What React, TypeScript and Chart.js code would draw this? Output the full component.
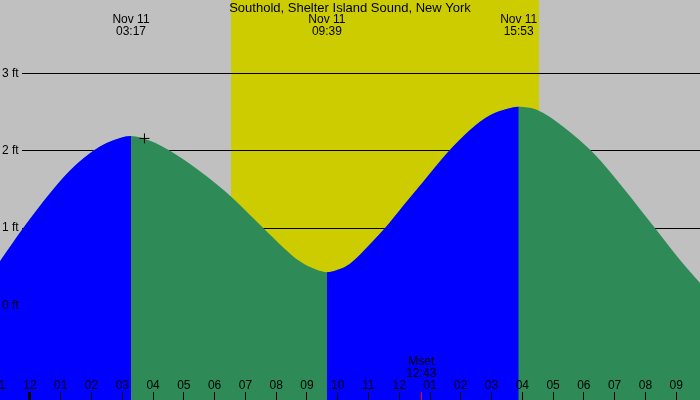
import React, { useEffect, useRef } from "react";
import { Chart, registerables, ChartConfiguration, Plugin } from "chart.js";

Chart.register(...registerables);

const title = "Southold, Shelter Island Sound, New York";

// tide curve (hours from midnight, feet)
const tideHours = [
  -0.975, -0.218, 0.65, 1.19, 1.73, 2.06, 2.49, 2.93, 3.283,
  3.9, 4.55, 5.09, 5.74, 6.53, 7.15, 7.58, 8.23, 8.77, 9.32, 9.65,
  10.0, 10.4, 11.05, 11.54, 12.13, 12.78, 13.6, 14.3, 14.95, 15.49, 15.883,
  16.47, 17.33, 18.31, 19.28, 20.31, 21.12, 21.775,
];
const tideFeet = [
  0.57, 1.0, 1.45, 1.7, 1.9, 2.0, 2.1, 2.165, 2.19,
  2.13, 2.0, 1.86, 1.67, 1.41, 1.17, 1.0, 0.75, 0.57, 0.46, 0.43,
  0.46, 0.54, 0.79, 1.0, 1.29, 1.6, 1.99, 2.27, 2.46, 2.54, 2.57,
  2.53, 2.31, 1.97, 1.52, 1.0, 0.59, 0.29,
];

// high / low labels
const extremeHours = [3.283, 9.65, 15.883];
const extremeDates = ["Nov 11", "Nov 11", "Nov 11"];
const extremeTimes = ["03:17", "09:39", "15:53"];

// daylight
const sunrise = 6.53;
const sunset = 16.54;

// moon set
const moonsetHour = 12.717;
const moonsetLabel = ["Mset", "12:43"];

// current time marker
const nowHour = 3.72;
const nowFeet = 2.16;

const yTicks = [0, 1, 2, 3];
const xTickHours = [-1, 0, 1, 2, 3, 4, 5, 6, 7, 8, 9, 10, 11, 12, 13, 14, 15, 16, 17, 18, 19, 20, 21];
const xTickLabels = ["11", "12", "01", "02", "03", "04", "05", "06", "07", "08", "09", "10", "11", "12", "01", "02", "03", "04", "05", "06", "07", "08", "09"];

const FONT = "12px 'Liberation Sans', Arial, sans-serif";
const BLUE = "#0000ff";
const GREEN = "#2e8b57";
const NONE = "rgba(0,0,0,0)";

const backdrop: Plugin = {
  id: "backdrop",
  beforeDraw(chart) {
    const { ctx, width, height } = chart;
    const x = chart.scales.x;
    const y = chart.scales.y;
    ctx.save();
    ctx.fillStyle = "#c0c0c0";
    ctx.fillRect(0, 0, width, height);
    const x0 = Math.round(x.getPixelForValue(sunrise));
    const x1 = Math.round(x.getPixelForValue(sunset));
    ctx.fillStyle = "#cccc00";
    ctx.fillRect(x0, 0, x1 - x0, height);
    ctx.fillStyle = "#000";
    yTicks.forEach((v) => {
      const py = y.getPixelForValue(v);
      ctx.fillRect(22, Math.round(py - 0.5), width - 22, 1);
    });
    ctx.restore();
  },
};

const labels: Plugin = {
  id: "labels",
  afterDatasetsDraw(chart) {
    const { ctx, width } = chart;
    const x = chart.scales.x;
    const y = chart.scales.y;
    ctx.save();
    ctx.fillStyle = "#000";
    ctx.font = FONT;
    ctx.textBaseline = "middle";

    // y labels
    ctx.textAlign = "left";
    yTicks.forEach((v) => {
      ctx.fillText(`${v} ft`, 2, y.getPixelForValue(v));
    });

    // x ticks
    ctx.textAlign = "center";
    xTickHours.forEach((h, i) => {
      const px = x.getPixelForValue(h);
      if (h === 0) {
        ctx.fillRect(Math.round(px) - 2, 392, 3, 8);
      } else {
        ctx.fillRect(Math.round(px - 0.5), 392, 1, 8);
      }
      ctx.fillText(xTickLabels[i], px, 386);
    });

    // moon set
    const mx = x.getPixelForValue(moonsetHour);
    ctx.fillStyle = "#ff0000";
    ctx.fillRect(Math.round(mx - 0.5), 392, 1, 8);
    ctx.fillStyle = "#000";
    ctx.fillText(moonsetLabel[0], mx, 362);
    ctx.fillText(moonsetLabel[1], mx, 374);

    // extremes
    extremeHours.forEach((h, i) => {
      const px = x.getPixelForValue(h);
      ctx.fillText(extremeDates[i], px, 20);
      ctx.fillText(extremeTimes[i], px, 32);
    });

    // title
    ctx.font = "13px 'Liberation Sans', Arial, sans-serif";
    ctx.fillText(title, width / 2, 8);
    ctx.restore();
  },
};

const TideChart: React.FC = () => {
  const chartRef = useRef<HTMLCanvasElement>(null);
  const chartInstance = useRef<Chart | null>(null);

  useEffect(() => {
    if (!chartRef.current) return;
    if (chartInstance.current) {
      chartInstance.current.destroy();
    }
    const ctx = chartRef.current.getContext("2d");
    if (!ctx) return;

    const points = tideHours.map((h, i) => ({ x: h, y: tideFeet[i] }));

    const config: ChartConfiguration = {
      type: "line",
      data: {
        datasets: [
          {
            type: "scatter",
            data: [{ x: nowHour, y: nowFeet }],
            pointStyle: "cross",
            pointRadius: 5,
            borderColor: "#000",
            borderWidth: 1,
            order: 1,
          },
          // rising tide (blue) laid over the falling colour
          {
            data: points,
            fill: "start",
            backgroundColor: BLUE,
            borderColor: NONE,
            borderWidth: 0,
            pointRadius: 0,
            cubicInterpolationMode: "monotone",
            segment: {
              backgroundColor: (c: any) => (c.p1.parsed.y > c.p0.parsed.y ? BLUE : NONE),
            },
            order: 2,
          },
          {
            data: points,
            fill: "start",
            backgroundColor: GREEN,
            borderColor: NONE,
            borderWidth: 0,
            pointRadius: 0,
            cubicInterpolationMode: "monotone",
            order: 3,
          },
        ],
      },
      options: {
        responsive: false,
        animation: false,
        layout: { padding: 0, autoPadding: false },
        plugins: {
          legend: { display: false },
          tooltip: { enabled: false },
        },
        scales: {
          x: { type: "linear", display: false, min: -0.975, max: 21.775 },
          y: { type: "linear", display: false, min: -1.223, max: 3.95 },
        },
      },
      plugins: [backdrop, labels],
    };

    chartInstance.current = new Chart(ctx, config);

    return () => {
      if (chartInstance.current) {
        chartInstance.current.destroy();
        chartInstance.current = null;
      }
    };
  }, []);

  return <canvas ref={chartRef} width="700" height="400" />;
};

export default function App() {
  return (
    <div style={{ position: "absolute", left: 0, top: 0, width: 700, height: 400 }}>
      <TideChart />
    </div>
  );
}
